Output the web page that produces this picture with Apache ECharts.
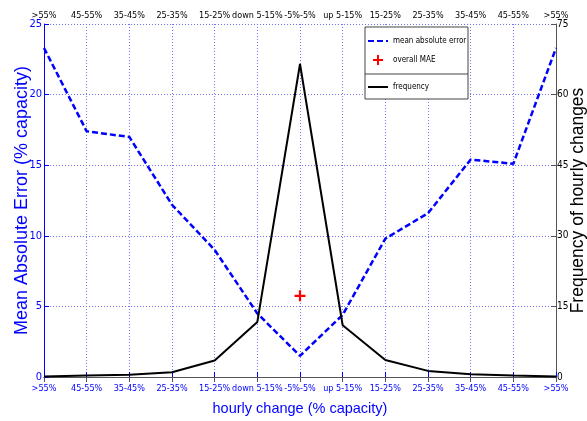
<!DOCTYPE html>
<html>
<head>
<meta charset="utf-8">
<script src="https://cdn.jsdelivr.net/npm/echarts@6/dist/echarts.min.js"></script>
<style>
  html, body { margin: 0; padding: 0; background: #fff; }
  #chart { width: 587px; height: 421px; }
</style>
</head>
<body>
<div id="chart"></div>
<script>
// Hourly change bins, from large drops through small changes to large rises
const categories = ['>55%', '45-55%', '35-45%', '25-35%', '15-25%', 'down 5-15%', '-5%-5%',
                    'up 5-15%', '15-25%', '25-35%', '35-45%', '45-55%', '>55%'];
// Mean absolute error per bin (% capacity), left axis
const maeValues = [23.3, 17.4, 17.0, 12.2, 9.0, 4.5, 1.5, 4.4, 9.8, 11.6, 15.4, 15.1, 23.3];
// Number of hourly changes per bin, right axis
const frequencyValues = [0.1, 0.3, 0.5, 1.0, 3.5, 11.7, 66.5, 11.0, 3.6, 1.3, 0.6, 0.3, 0.1];
// Overall MAE, drawn at the central bin
const overallMaeIndex = 6;
const overallMae = 5.75;
// Axis ticks
const leftTicks = { min: 0, max: 25, interval: 5 };
const rightTicks = { min: 0, max: 75, interval: 15 };

const BLUE = '#0000ff';
const GRID = '#7070ff';
const COND = '"DejaVu Sans Condensed", "Liberation Sans", sans-serif';
const SANS = '"Liberation Sans", Arial, sans-serif';

const chart = echarts.init(document.getElementById('chart'), null, { renderer: 'canvas' });

const plus = 'path://M4,0 L6,0 L6,4 L10,4 L10,6 L6,6 L6,10 L4,10 L4,6 L0,6 L0,4 L4,4 Z';
const legendText = { fontFamily: COND, fontSize: 8, color: '#000' };

chart.setOption({
  animation: false,
  backgroundColor: '#fff',
  grid: { left: 44, right: 31, top: 24, bottom: 44, containLabel: false, outerBoundsMode: 'none' },
  graphic: [
    {
      type: 'rect', z: 3,
      shape: { x: 365, y: 27, width: 103, height: 72 },
      style: { fill: '#fff', stroke: '#444', lineWidth: 1 }
    },
    {
      type: 'line', z: 3,
      shape: { x1: 365, y1: 74, x2: 468, y2: 74 },
      style: { stroke: '#444', lineWidth: 1 }
    }
  ],
  legend: [
    {
      data: [
        { name: 'mean absolute error', itemStyle: { opacity: 0 } },
        { name: 'overall MAE' }
      ],
      orient: 'vertical', left: 367, top: 37, z: 5, padding: 0,
      itemWidth: 20, itemHeight: 10, itemGap: 10,
      textStyle: legendText
    },
    {
      data: [{ name: 'frequency', itemStyle: { opacity: 0 } }],
      orient: 'vertical', left: 367, top: 83, z: 5, padding: 0,
      itemWidth: 20, itemHeight: 10,
      textStyle: legendText
    }
  ],
  xAxis: [
    {
      type: 'category', data: categories, boundaryGap: false, position: 'bottom',
      name: 'hourly change (% capacity)', nameLocation: 'middle', nameGap: 24,
      nameMoveOverlap: false,
      nameTextStyle: { fontFamily: SANS, fontSize: 14.5, color: BLUE },
      axisLine: { lineStyle: { color: BLUE, width: 1 } },
      axisTick: { inside: true, length: 5, lineStyle: { color: BLUE } },
      axisLabel: { fontFamily: COND, fontSize: 9, color: BLUE, margin: 7, interval: 0 },
      splitLine: { show: true, lineStyle: { color: GRID, type: [1, 2], width: 1 } }
    },
    {
      type: 'category', data: categories, boundaryGap: false, position: 'top',
      axisLine: { lineStyle: { color: '#555', width: 1 } },
      axisTick: { inside: true, length: 5, lineStyle: { color: '#555' } },
      axisLabel: { fontFamily: COND, fontSize: 9, color: '#000', margin: 4, interval: 0 },
      splitLine: { show: false }
    }
  ],
  yAxis: [
    {
      type: 'value', position: 'left',
      min: leftTicks.min, max: leftTicks.max, interval: leftTicks.interval,
      name: 'Mean Absolute Error (% capacity)', nameLocation: 'middle', nameGap: 13,
      nameMoveOverlap: false,
      nameTextStyle: { fontFamily: SANS, fontSize: 18, color: BLUE },
      axisLine: { show: true, lineStyle: { color: BLUE, width: 1 } },
      axisTick: { show: true, inside: true, length: 5, lineStyle: { color: BLUE } },
      axisLabel: { fontFamily: COND, fontSize: 11, color: BLUE, margin: 2 },
      splitLine: { show: true, lineStyle: { color: GRID, type: [1, 2], width: 1 } }
    },
    {
      type: 'value', position: 'right',
      min: rightTicks.min, max: rightTicks.max, interval: rightTicks.interval,
      name: 'Frequency of hourly changes', nameLocation: 'middle', nameGap: 13,
      nameRotate: 90, nameMoveOverlap: false,
      nameTextStyle: { fontFamily: SANS, fontSize: 17.5, color: '#000' },
      axisLine: { show: true, lineStyle: { color: '#555', width: 1 } },
      axisTick: { show: true, inside: true, length: 5, lineStyle: { color: '#555' } },
      axisLabel: { fontFamily: COND, fontSize: 10, color: '#000', margin: 1 },
      splitLine: { show: false }
    }
  ],
  series: [
    {
      name: 'mean absolute error', type: 'line', xAxisIndex: 0, yAxisIndex: 0,
      data: maeValues, symbol: 'circle', showSymbol: false, z: 3,
      lineStyle: { color: BLUE, width: 2.5, type: [6, 3] },
      itemStyle: { color: BLUE }
    },
    {
      name: 'overall MAE', type: 'scatter', xAxisIndex: 0, yAxisIndex: 0,
      data: [[overallMaeIndex, overallMae]], symbol: plus, symbolSize: 11, z: 4,
      itemStyle: { color: '#ff0000', opacity: 1 }
    },
    {
      name: 'frequency', type: 'line', xAxisIndex: 0, yAxisIndex: 1,
      data: frequencyValues, symbol: 'circle', showSymbol: false, z: 3,
      lineStyle: { color: '#000', width: 2 },
      itemStyle: { color: '#000' }
    }
  ]
});
</script>
</body>
</html>
